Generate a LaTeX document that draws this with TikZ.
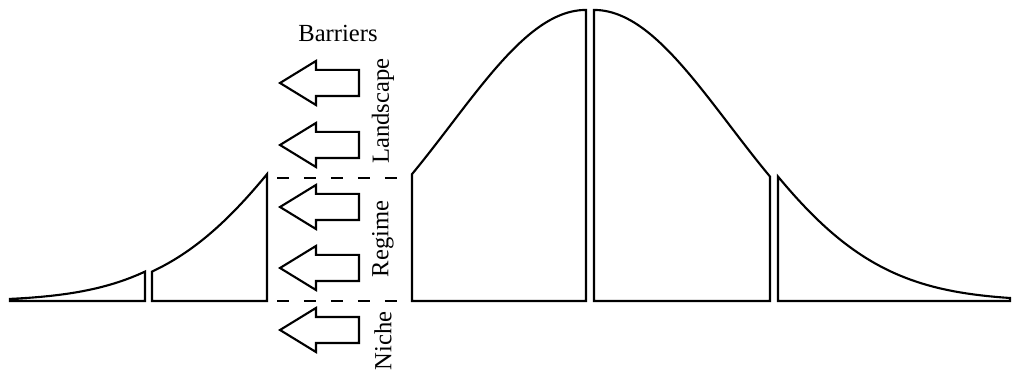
\documentclass[tikz,border=0pt]{standalone}
\usepackage{fontspec}
\setmainfont{Liberation Serif}
\usepackage{tikz}
\usetikzlibrary{shapes,arrows,positioning}

\begin{document}
\begin{tikzpicture}[
    x=0.02cm, y=-0.02cm,
    font=\fontsize{14}{16}\selectfont,
    declare function={bell(\t)=301-291*exp(-0.5*((\t-586)/135)^2);},
    seg/.style={draw=black, line width=1.2pt, line join=miter},
    barrow/.style={single arrow, draw=black, line width=1.2pt, shape border rotate=180, anchor=tip, minimum height=1.58cm, single arrow head extend=0.18cm, single arrow tip angle=63, single arrow head indent=0pt, inner xsep=0pt, inner ysep=0.24cm},
    lbl/.style={inner sep=0pt},
    sep/.style={dash pattern=on 0.24cm off 0.3cm, line width=1.2pt}
]
    \useasboundingbox (0,0) rectangle (1019,378);

    % the curve, cut into pieces
    \draw[seg] (10,301) -- (145,301) -- (145,{bell(297)}) -- plot[domain=145:10, samples=40] (\x,{bell(\x+152)}) -- cycle;
    \draw[seg] (152,301) -- (267,301) -- (267,{bell(412)}) -- plot[domain=267:152, samples=40] (\x,{bell(\x+145)}) -- cycle;
    \draw[seg] (412,301) -- (586,301) -- (586,{bell(586)}) -- plot[domain=586:412, samples=50] (\x,{bell(\x)}) -- cycle;
    \draw[seg] (594,301) -- (770,301) -- (770,{bell(762)}) -- plot[domain=770:594, samples=50] (\x,{bell(\x-8)}) -- cycle;
    \draw[seg] (778,301) -- (1010,301) -- plot[domain=1010:778, samples=60] (\x,{bell(\x-16)}) -- cycle;

    % barrier arrows
    \node[barrow] (a1) at (278,83) {};
    \node[barrow] (a2) at (278,145) {};
    \node[barrow] (a3) at (278,207) {};
    \node[barrow] (a4) at (278,268) {};
    \node[barrow] (a5) at (278,330) {};

    \node[lbl] (barriers) at (338,33) {Barriers};
    \node[lbl, rotate=90] (landscape) at (383,111) {Landscape};
    \node[lbl, rotate=90] (regime) at (383,239) {Regime};
    \node[lbl, rotate=90] (niche) at (383,341) {Niche};

    % level boundaries
    \coordinate (d1) at (277,178);
    \coordinate (d2) at (404,178);
    \coordinate (d3) at (277,301);
    \coordinate (d4) at (404,301);
    \draw[sep] (d1) -- (d2);
    \draw[sep] (d3) -- (d4);

\end{tikzpicture}
\end{document}
